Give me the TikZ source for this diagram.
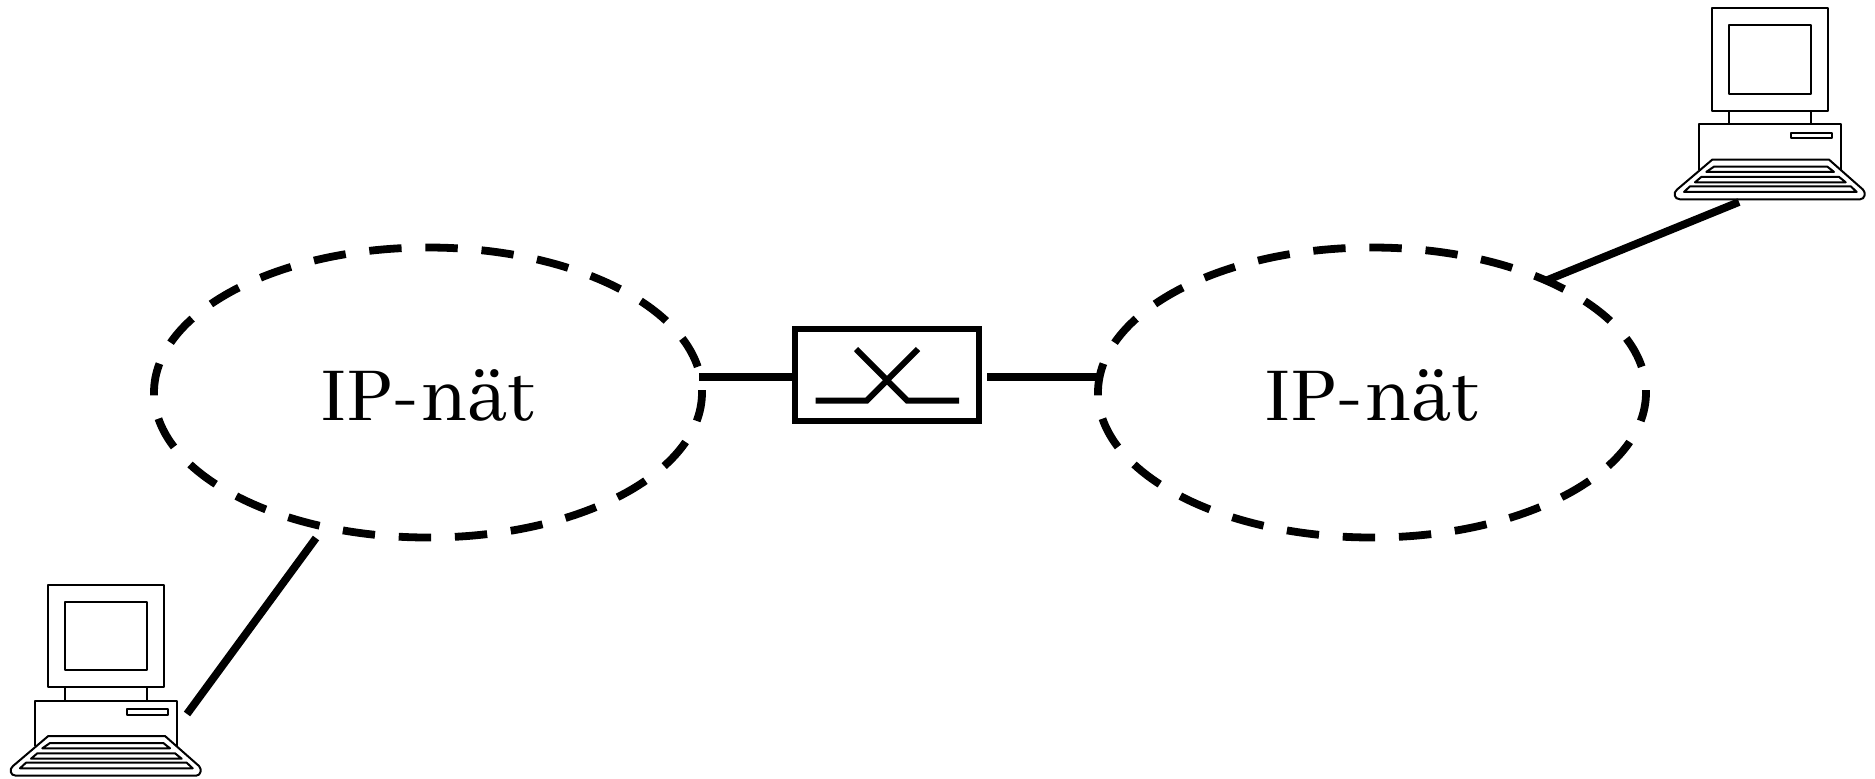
\documentclass[tikz,border=0pt]{standalone}
\usepackage{fontspec}
\newfontfamily\netfont{Abhaya Libre}
\usetikzlibrary{shapes.geometric}
\tikzset{
  x=0.5pt,y=-0.5pt,
  cloud net/.style={draw,ellipse,line width=3.9pt,dash pattern=on 16.2pt off 11.9pt,dash phase=15pt,minimum width=274pt,minimum height=145pt,inner sep=0pt},
  net label/.style={anchor=base,font=\netfont\fontsize{42}{42}\selectfont,inner sep=0pt},
  wire/.style={line width=3.9pt},
  switch box/.style={draw,line width=3pt,minimum width=92pt,minimum height=46pt,inner sep=0pt},
  switch arm/.style={line width=3pt},
  pc line/.style={line width=1pt,line join=round},
  pc/.pic={
    \draw[pc line] (48.3,584.7) rectangle (163.7,687.3);
    \draw[pc line] (65,601.7) rectangle (147.3,670.3);
    \draw[pc line] (65,687.3) -- (65,700.7) (147.3,687.3) -- (147.3,700.7);
    \draw[pc line] (35.3,746) -- (35.3,700.7) -- (177,700.7) -- (177,746);
    \draw[pc line] (126.7,709) rectangle (167.7,714.7);
    \draw[pc line] (48.3,736) -- (165,736) -- (199,766) .. controls (202,769) and (201,775.7) .. (196,775.7)
      -- (16,775.7) .. controls (10,775.7) and (9,769) .. (13,766) -- cycle;
    \draw[pc line] (50,743) -- (163.3,743) -- (170,748.3) -- (42.3,748.3) -- cycle;
    \draw[pc line] (37.3,753.3) -- (175,753.3) -- (181.7,758.7) -- (31,758.7) -- cycle;
    \draw[pc line] (26,762.7) -- (186.7,762.7) -- (192.7,768.3) -- (20,768.3) -- cycle;
  }
}
\begin{document}
\begin{tikzpicture}
\useasboundingbox (0,0) rectangle (1875,778);
\pic at (0,0) {pc};
\pic at (1664,-576.4) {pc};
\node[cloud net] (ipL) at (428,392.5) {};
\node[cloud net] (ipR) at (1372,392.5) {};
\node[net label] (ipLt) at (427,420) {IP-nät};
\node[net label] (ipRt) at (1371,420) {IP-nät};
\node[switch box] (sw) at (887,375) {};
\coordinate (sa) at (815.7,400.7);
\coordinate (sb) at (866.7,400.7);
\coordinate (sc) at (918,349);
\coordinate (sd) at (856,349);
\coordinate (se) at (907.3,400.7);
\coordinate (sf) at (959,400.7);
\draw[switch arm] (sa) -- (sb) -- (sc);
\draw[switch arm] (sd) -- (se) -- (sf);
\coordinate (wl) at (699,377);
\coordinate (wr) at (987,377);
\coordinate (wre) at (1100,377);
\coordinate (c1) at (187,714);
\coordinate (n1) at (316,538);
\coordinate (c2) at (1739,202);
\coordinate (n2) at (1545,281);
\draw[wire] (wl) -- (wl -| sw.west);
\draw[wire] (wr) -- (wre);
\draw[wire] (c1) -- (n1);
\draw[wire] (c2) -- (n2);
\end{tikzpicture}
\end{document}
